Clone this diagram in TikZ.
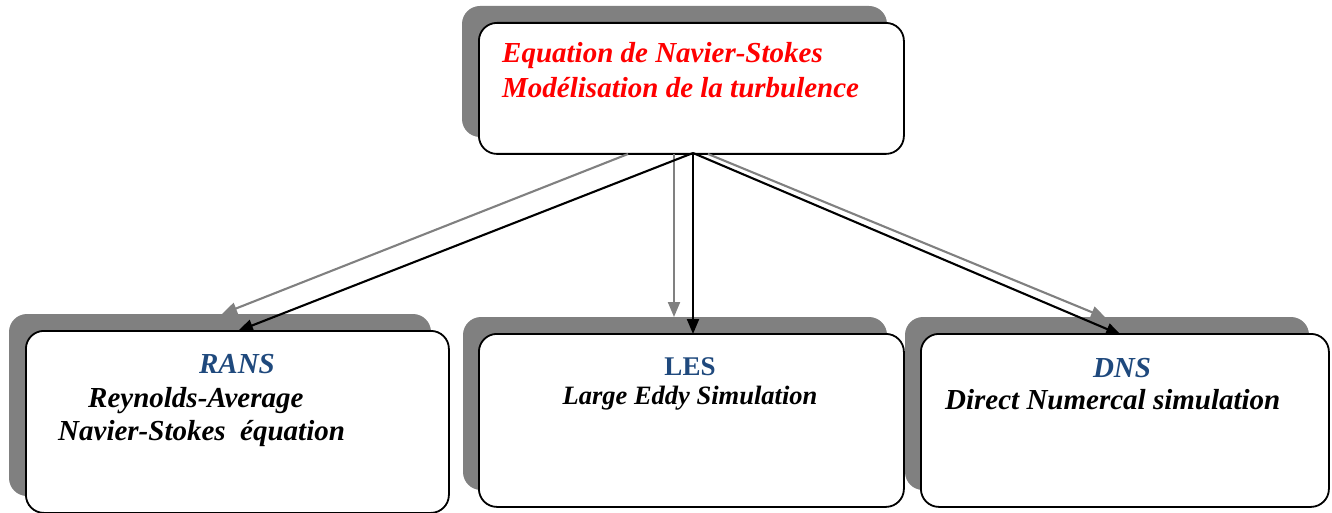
\documentclass[tikz,border=0pt]{standalone}
\usepackage{fontspec}
\setmainfont{Liberation Serif}
\usetikzlibrary{arrows.meta}
\definecolor{titlered}{RGB}{255,0,0}
\definecolor{headblue}{RGB}{31,73,125}
\definecolor{shadowgray}{RGB}{128,128,128}

\begin{document}
\begin{tikzpicture}[x=1pt,y=-1pt,
  card/.style={draw=black, line width=1.8pt, fill=white, rounded corners=18pt,
    anchor=north west, inner sep=0pt},
  cardshadow/.style={fill=shadowgray, rounded corners=18pt},
  mainlink/.style={draw=black, line width=2.1pt, -{Triangle[length=15pt,width=12pt]}},
  echolink/.style={draw=shadowgray, line width=2.1pt, -{Triangle[length=15pt,width=12pt]}},
  bigtxt/.style={font=\fontsize{29}{34}\selectfont\bfseries\itshape, inner sep=0pt},
  midtxt/.style={font=\fontsize{26.5}{31}\selectfont\bfseries\itshape, inner sep=0pt},
  headtxt/.style={font=\fontsize{29}{34}\selectfont\bfseries\itshape, text=headblue, inner sep=0pt, anchor=base},
]
\useasboundingbox (0,0) rectangle (1332,513);

% drop shadows behind the boxes
\fill[cardshadow] (462,6) rectangle (887,137);
\fill[cardshadow] (9,314) rectangle (431,496);
\fill[cardshadow] (463,317) rectangle (887,490);
\fill[cardshadow] (905,317) rectangle (1309,490);

% boxes
\node[card, minimum width=425pt, minimum height=131pt] (top) at (478,22) {};
\node[card, minimum width=423pt, minimum height=182pt] (rans) at (25,330) {};
\node[card, minimum width=425pt, minimum height=173pt] (les) at (478,333) {};
\node[card, minimum width=408pt, minimum height=173pt] (dns) at (920,333) {};

% texts
\node[bigtxt, text=titlered, anchor=base west] (t1) at (502,63) {Equation de Navier-Stokes};
\node[bigtxt, text=titlered, anchor=base west] (t2) at (502,98) {Modélisation de la turbulence};

\node[headtxt] (ransh) at (237,373) {RANS};
\node[bigtxt, anchor=base west] (r1) at (88,407) {Reynolds-Average};
\node[bigtxt, anchor=base west] (r2) at (58,440) {Navier-Stokes\ \ équation};

\node[headtxt, font=\fontsize{27}{32}\selectfont\bfseries] (lesh) at (690,375) {LES};
\node[midtxt, anchor=base] (l1) at (690,404) {Large Eddy Simulation};

\node[headtxt] (dnsh) at (1122,377) {DNS};
\node[bigtxt, anchor=base west] (d1) at (945,409) {Direct Numercal simulation};

% connector end points
\coordinate (srcMain) at (693,153);
\coordinate (srcEchoA) at (628,154);
\coordinate (srcEchoB) at (674,154);
\coordinate (srcEchoC) at (708,154);
\coordinate (inRans) at (238,331);
\coordinate (inLes) at (693,334);
\coordinate (inDns) at (1121,335);
\coordinate (echoRans) at (222,314);
\coordinate (echoLes) at (674,317);
\coordinate (echoDns) at (1106,318);

% connectors
\draw[echolink] (srcEchoA) -- (echoRans);
\draw[echolink] (srcEchoB) -- (echoLes);
\draw[echolink] (srcEchoC) -- (echoDns);
\draw[mainlink] (srcMain) -- (inRans);
\draw[mainlink] (srcMain) -- (inLes);
\draw[mainlink] (srcMain) -- (inDns);
\end{tikzpicture}
\end{document}
